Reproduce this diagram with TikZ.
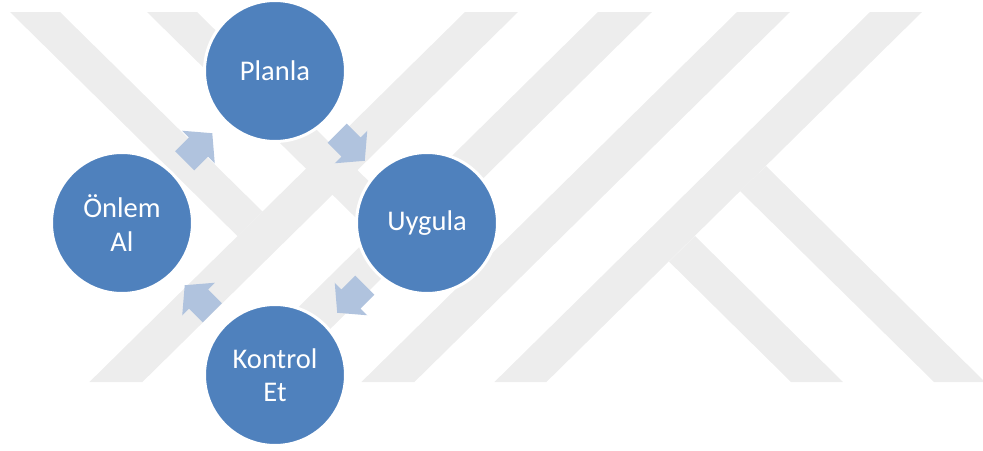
\documentclass[tikz,border=0pt]{standalone}
\usepackage{fontspec}
\setmainfont{Carlito}
\usetikzlibrary{calc}
\definecolor{cycleblue}{HTML}{4F81BD}
\definecolor{arrowblue}{HTML}{B0C3DE}
\definecolor{markgray}{HTML}{EDEDED}
\tikzset{
  stage/.style={circle, fill=cycleblue, draw=white, line width=3pt,
    minimum size=141pt, inner sep=0pt, text=white, align=center,
    font=\fontsize{28.5}{33.5}\selectfont},
  band/.style={fill=markgray},
  cyclearrow/.style={fill=arrowblue},
}
% block arrow centred at #1, pointing along angle #2
\newcommand\cycleArrow[2]{%
  \fill[cyclearrow, shift={(#1)}, rotate=#2]
    (-19.5,-13.5) -- (0,-13.5) -- (0,-23) -- (19.5,0) -- (0,23) -- (0,13.5) -- (-19.5,13.5) -- cycle;}
\begin{document}
\begin{tikzpicture}[x=1pt,y=-1pt]
\useasboundingbox (0,0) rectangle (983,450);
\clip (0,0) rectangle (983,450);

% background emblem bands
\fill[band] (465,12) -- (518,12) -- (142.4,382) -- (89.4,382) -- cycle;
\fill[band] (598,12) -- (652,12) -- (276.4,382) -- (222.4,382) -- cycle;
\fill[band] (737,12) -- (790,12) -- (414.4,382) -- (361.4,382) -- cycle;
\fill[band] (870,12) -- (922,12) -- (546.4,382) -- (494.4,382) -- cycle;
\fill[band] (10,12) -- (60,12) -- (262.5,211.5) -- (237.5,236.1) -- cycle;
\fill[band] (147,12) -- (197,12) -- (397.5,209.5) -- (372.5,234.2) -- cycle;
\fill[band] (740,191) -- (766,166) -- (985,382) -- (934,382) -- cycle;
\fill[band] (669,261.6) -- (695,236) -- (843,382) -- (791,382) -- cycle;

% cycle stages
\node[stage] (planla)  at (275,71)  {Planla};
\node[stage] (uygula)  at (427,223) {Uygula};
\node[stage] (kontrol) at (275,375) {Kontrol\\Et};
\node[stage] (onlem)   at (122,223) {Önlem\\Al};

% arrows between consecutive stages
\coordinate (a1) at ($(onlem)!0.5!(planla)$);
\coordinate (a2) at ($(planla)!0.5!(uygula)$);
\coordinate (a3) at ($(uygula)!0.5!(kontrol)$);
\coordinate (a4) at ($(kontrol)!0.5!(onlem)$);
\cycleArrow{a1}{45}
\cycleArrow{a2}{-45}
\cycleArrow{a3}{-135}
\cycleArrow{a4}{135}
\end{tikzpicture}
\end{document}
